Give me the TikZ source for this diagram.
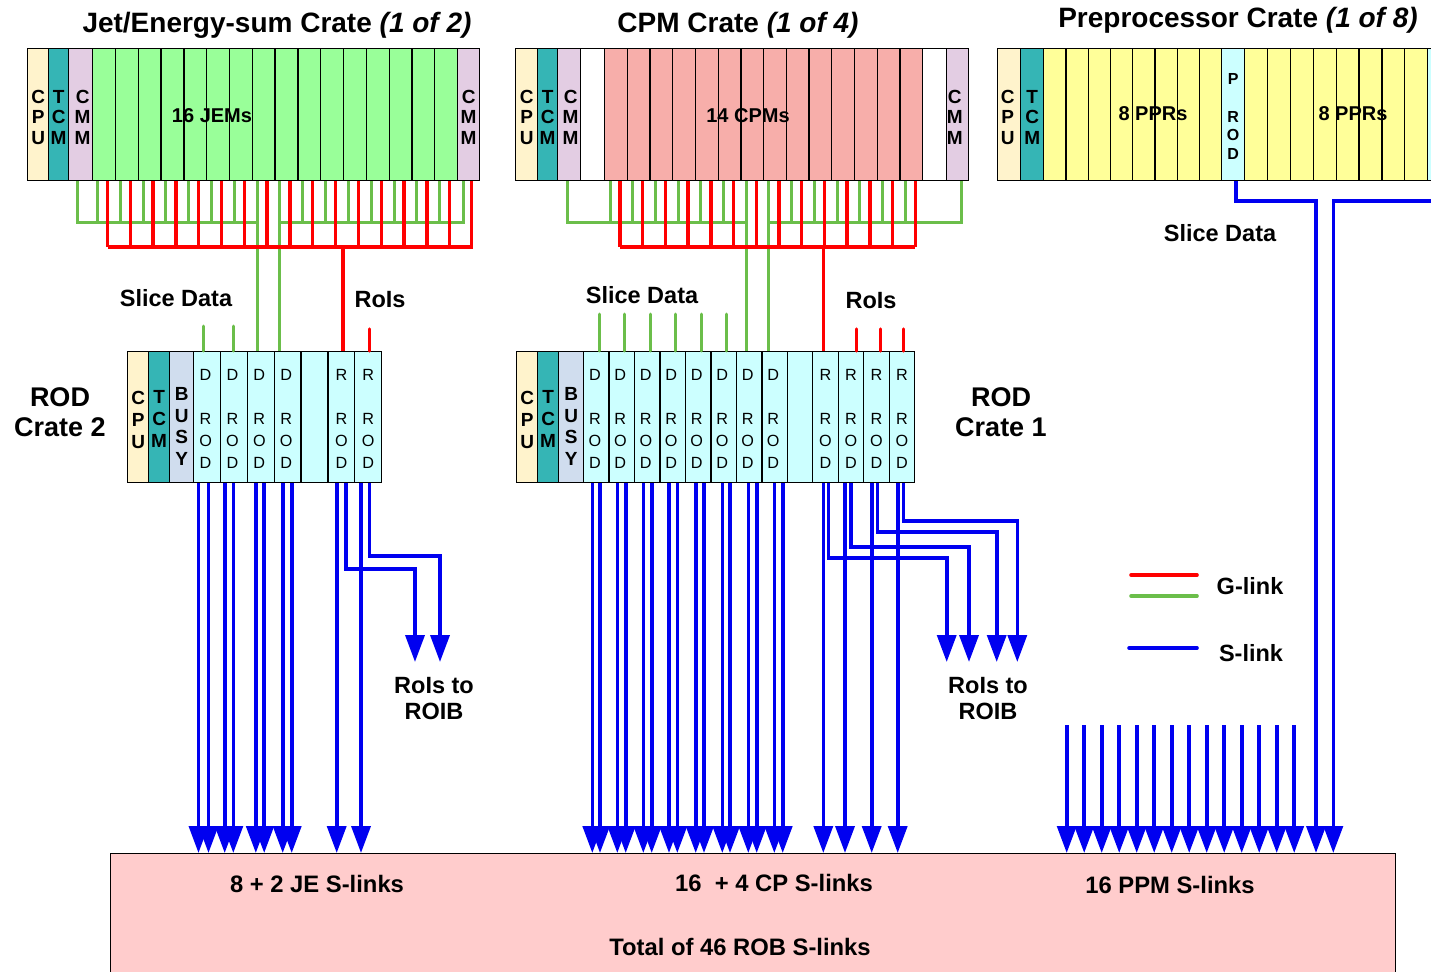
\documentclass[tikz,border=0pt]{standalone}
\usepackage{fontspec}
\setmainfont{Liberation Sans}
\usetikzlibrary{arrows.meta}
\definecolor{cpuc}{HTML}{FFF3CC}
\definecolor{tcmc}{HTML}{35B5B5}
\definecolor{cmmc}{HTML}{E3CDE3}
\definecolor{jemc}{HTML}{99FF99}
\definecolor{cpmc}{HTML}{F7AEAA}
\definecolor{pprc}{HTML}{FFFF99}
\definecolor{rodc}{HTML}{CCFFFF}
\definecolor{busyc}{HTML}{D0DDEE}
\definecolor{robc}{HTML}{FFCCCC}
\definecolor{gl}{HTML}{6BBE4A}
\definecolor{rl}{HTML}{FF0000}
\definecolor{sl}{HTML}{0000F0}
\newcommand\myfs[2]{\fontsize{#1}{#2}\selectfont}
\begin{document}
\begin{tikzpicture}[x=1pt,y=-1pt,
  slotn/.style={draw=black, line width=1.3pt, inner sep=0pt, anchor=north west, minimum height=132pt},
  rslot/.style={slotn, minimum height=131pt},
  stk/.style={font={\bfseries\myfs{19}{20.5}}, align=center, inner sep=0pt},
  rstk/.style={font={\bfseries\myfs{19}{22}}, align=center, inner sep=0pt},
  dstk/.style={font={\myfs{16.2}{22}}, align=center, inner sep=0pt},
  pstk/.style={font={\bfseries\myfs{16}{18.7}}, align=center, inner sep=0pt},
  mlbl/.style={font={\bfseries\myfs{20}{22}}, inner sep=0pt},
  lbl/.style={font={\bfseries\myfs{23.5}{26}}, align=center, inner sep=0pt},
  blbl/.style={font={\bfseries\myfs{23.8}{26}}, inner sep=0pt},
  clbl/.style={font={\bfseries\myfs{27}{30}}, align=center, inner sep=0pt},
  ttl/.style={font={\bfseries\myfs{28}{30}}, inner sep=0pt},
  glink/.style={draw=gl, line width=3pt},
  rlink/.style={draw=rl, line width=3.4pt},
  slink/.style={draw=sl, line width=3.6pt},
  sarr/.style={slink, -{Triangle[width=19pt,length=27pt]}},
]
\useasboundingbox (0,0) rectangle (1431,971);

% ROB box
\node[draw=black, line width=1.3pt, fill=robc, anchor=north west, inner sep=0pt,
      minimum width=1285pt, minimum height=130pt] (rob) at (110,853) {};

% titles
\node[ttl] (t1) at (277,25) {Jet/Energy-sum Crate \textit{(1 of 2)}};
\node[ttl] (t2) at (738,25) {CPM Crate \textit{(1 of 4)}};
\node[ttl] (t3) at (1238,20) {Preprocessor Crate \textit{(1 of 8)}};

% ---------------- Jet/Energy-sum crate
\node[slotn, fill=cpuc, minimum width=21pt] (jcpu) at (27,48) {};
\node[slotn, fill=tcmc, minimum width=20pt] (jtcm) at (48,48) {};
\node[slotn, fill=cmmc, minimum width=24pt] (jcmma) at (68,48) {};
\foreach \i in {0,...,15}
  \node[slotn, fill=jemc, minimum width=22.81pt] (jem\i) at ({92+22.81*\i},48) {};
\node[slotn, fill=cmmc, minimum width=22pt] (jcmmb) at (457,48) {};
\node[stk] at ([yshift=-2.5pt]jcpu.center) {C\\P\\U};
\node[stk] at ([yshift=-2.5pt]jtcm.center) {T\\C\\M};
\node[stk] at ([xshift=2pt,yshift=-2.5pt]jcmma.center) {C\\M\\M};
\node[stk] at ([yshift=-2.5pt]jcmmb.center) {C\\M\\M};
\node[mlbl] at (212,116) {16 JEMs};

% ---------------- CPM crate
\node[slotn, fill=cpuc, minimum width=22pt] (ccpu) at (515,48) {};
\node[slotn, fill=tcmc, minimum width=20pt] (ctcm) at (537,48) {};
\node[slotn, fill=cmmc, minimum width=23pt] (ccmma) at (557,48) {};
\node[slotn, fill=white, minimum width=24pt] (cbla) at (580,48) {};
\foreach \i in {0,...,13}
  \node[slotn, fill=cpmc, minimum width=22.71pt] (cpm\i) at ({604+22.71*\i},48) {};
\node[slotn, fill=white, minimum width=24pt] (cblb) at (922,48) {};
\node[slotn, fill=cmmc, minimum width=22pt] (ccmmb) at (946,48) {};
\node[stk] at ([yshift=-2.5pt]ccpu.center) {C\\P\\U};
\node[stk] at ([yshift=-2.5pt]ctcm.center) {T\\C\\M};
\node[stk] at ([xshift=1.5pt,yshift=-2.5pt]ccmma.center) {C\\M\\M};
\node[stk] at ([xshift=-3pt,yshift=-2.5pt]ccmmb.center) {C\\M\\M};
\node[mlbl] at (748,116) {14 CPMs};

% ---------------- Preprocessor crate
\node[slotn, fill=cpuc, minimum width=23pt] (pcpu) at (997,48) {};
\node[slotn, fill=tcmc, minimum width=23pt] (ptcm) at (1020,48) {};
\foreach \i in {0,...,7}
  \node[slotn, fill=pprc, minimum width=22.25pt] (ppa\i) at ({1043+22.25*\i},48) {};
\node[slotn, fill=rodc, minimum width=23pt] (prod) at (1221,48) {};
\foreach \i in {0,...,7}
  \node[slotn, fill=pprc, minimum width=22.875pt] (ppb\i) at ({1244+22.875*\i},48) {};
\node[slotn, fill=rodc, minimum width=23pt] (prodb) at (1427,48) {};
\node[stk] at ([xshift=-1.5pt,yshift=-2.5pt]pcpu.center) {C\\P\\U};
\node[stk] at ([yshift=-2.5pt]ptcm.center) {T\\C\\M};
\node[pstk] at ([yshift=-2pt]prod.center) {P\\[18.7pt]R\\O\\D};
\node[mlbl] at (1153,114) {8 PPRs};
\node[mlbl] at (1353,114) {8 PPRs};

% ---------------- ROD crate 2
\node[rslot, fill=cpuc, minimum width=21pt] (r2cpu) at (127,351) {};
\node[rslot, fill=tcmc, minimum width=21pt] (r2tcm) at (148,351) {};
\node[rslot, fill=busyc, minimum width=24pt] (r2busy) at (169,351) {};
\foreach \n [count=\k from 0] in {r2d1,r2d2,r2d3,r2d4,r2x,r2r1,r2r2}
  \node[rslot, fill=rodc, minimum width=26.86pt] (\n) at ({193+26.86*\k},351) {};
\node[rstk] at ([yshift=-3pt]r2cpu.center) {C\\P\\U};
\node[rstk] at ([yshift=-2pt]r2tcm.center) {T\\C\\M};
\node[font={\bfseries\myfs{19}{21.5}}, align=center, inner sep=0pt] at ([yshift=-9.5pt]r2busy.center) {B\\U\\S\\Y};
\foreach \n in {r2d1,r2d2,r2d3,r2d4}
  \node[dstk] at ([xshift=-1.5pt,yshift=-1.5pt]\n.center) {D\\[22pt]R\\O\\D};
\foreach \n in {r2r1,r2r2}
  \node[dstk] at ([yshift=-1.5pt]\n.center) {R\\[22pt]R\\O\\D};
\node[clbl] (rc2) at (60,412) {ROD\\Crate 2};

% ---------------- ROD crate 1
\node[rslot, fill=cpuc, minimum width=21pt] (r1cpu) at (516,351) {};
\node[rslot, fill=tcmc, minimum width=21pt] (r1tcm) at (537,351) {};
\node[rslot, fill=busyc, minimum width=25pt] (r1busy) at (558,351) {};
\foreach \n [count=\k from 0] in {r1d1,r1d2,r1d3,r1d4,r1d5,r1d6,r1d7,r1d8,r1x,r1r1,r1r2,r1r3,r1r4}
  \node[rslot, fill=rodc, minimum width=25.46pt] (\n) at ({583+25.46*\k},351) {};
\node[rstk] at ([yshift=-3pt]r1cpu.center) {C\\P\\U};
\node[rstk] at ([yshift=-2pt]r1tcm.center) {T\\C\\M};
\node[font={\bfseries\myfs{19}{21.5}}, align=center, inner sep=0pt] at ([yshift=-9.5pt]r1busy.center) {B\\U\\S\\Y};
\foreach \n in {r1d1,r1d2,r1d3,r1d4,r1d5,r1d6,r1d7,r1d8}
  \node[dstk] at ([xshift=-1.5pt,yshift=-1.5pt]\n.center) {D\\[22pt]R\\O\\D};
\foreach \n in {r1r1,r1r2,r1r3,r1r4}
  \node[dstk] at ([yshift=-1.5pt]\n.center) {R\\[22pt]R\\O\\D};
\node[clbl] (rc1) at (1001,412) {ROD\\Crate 1};

% ---------------- bus levels
\coordinate (gbus) at (0,222);
\coordinate (rbus) at (0,247);
\coordinate (pbus) at (0,201);

% ---------------- coordinates of link starts
\foreach \i in {0,...,15}{
  \coordinate (jg\i) at ([xshift=5.5pt]jem\i.south west);
  \coordinate (jr\i) at ([xshift=15.5pt]jem\i.south west);
}
\foreach \i in {0,...,13}{
  \coordinate (cg\i) at ([xshift=6pt]cpm\i.south west);
  \coordinate (cr\i) at ([xshift=16pt]cpm\i.south west);
}

% ---------------- green G-links (below red)
\foreach \i in {0,...,15}{
  \draw[glink] (jg\i) -- (jg\i |- gbus);
}
\coordinate (jga) at ([xshift=-3pt]jcmma.south);
\coordinate (jgb) at ([xshift=-5pt]jcmmb.south);
\draw[glink] (jga) |- (jg7 |- gbus);
\draw[glink] (jgb) |- (jg8 |- gbus);
\draw[glink] (jg7) -- (jg7 |- r2d3.north);
\draw[glink] (jg8) -- (jg8 |- r2d4.north);

\foreach \i in {0,...,13}{
  \draw[glink] (cg\i) -- (cg\i |- gbus);
}
\coordinate (cga) at ([xshift=-1.5pt]ccmma.south);
\coordinate (cgb) at ([xshift=4pt]ccmmb.south);
\draw[glink] (cga) |- (cg6 |- gbus);
\draw[glink] (cgb) |- (cg7 |- gbus);
\draw[glink] (cg6) -- (cg6 |- r1d7.north);
\draw[glink] (cg7) -- (cg7 |- r1d8.north);

% ---------------- red G-links (on top)
\foreach \i in {0,...,15}{
  \draw[rlink] (jr\i) -- (jr\i |- rbus);
}
\coordinate (jrb) at ([xshift=3pt]jcmmb.south);
\draw[rlink] (jrb) |- (jr0 |- rbus);
\coordinate (jrd) at ([xshift=1.5pt]r2r1.north);
\draw[rlink] (jrd |- rbus) -- (jrd);

\foreach \i in {0,...,13}{
  \draw[rlink] (cr\i) -- (cr\i |- rbus);
}
\draw[rlink] (cr0 |- rbus) -- (cr13 |- rbus);
\coordinate (crd) at ([xshift=-2pt]r1r1.north);
\draw[rlink] (crd |- rbus) -- (crd);

% ---------------- ROD input stubs
\foreach \n/\dx in {r2d1/-3.6, r2d2/-0.8}
  \draw[glink, line cap=round] ([xshift=\dx pt]\n.north) -- ++(0,-25);
\draw[rlink, line cap=round] ([xshift=1.4pt]r2r2.north) -- ++(0,-22);
\foreach \n in {r1d1,r1d2,r1d3,r1d4,r1d5,r1d6}
  \draw[glink, line cap=round] ([xshift=3pt]\n.north) -- ++(0,-37);
\foreach \n/\dx in {r1r2/5.7, r1r3/4.2, r1r4/1.7}
  \draw[rlink, line cap=round] ([xshift=\dx pt]\n.north) -- ++(0,-22);

% ---------------- S-links ROD crate 2
\foreach \x/\n in {198.5/r2d1, 208.5/r2d1, 224.7/r2d2, 233.3/r2d2, 255.8/r2d3, 264.2/r2d3,
                   282.7/r2d4, 291.7/r2d4, 336.7/r2r1, 361/r2r2}
  \draw[sarr] (\x,0 |- \n.south) -- (\x,0 |- rob.north);
\coordinate (roi2a) at (415,662);
\coordinate (roi2b) at (440,662);
\draw[sarr] (345.7,0 |- r2r1.south) |- (415,569) -- (roi2a);
\draw[sarr] (369.3,0 |- r2r2.south) |- (440,556) -- (roi2b);

% ---------------- S-links ROD crate 1
\foreach \x/\n in {592.3/r1d1, 600/r1d1, 617.3/r1d2, 625.7/r1d2, 643.3/r1d3, 651.7/r1d3,
                   669/r1d4, 677.3/r1d4, 695.7/r1d5, 704/r1d5, 722.3/r1d6, 730/r1d6,
                   748.3/r1d7, 756.7/r1d7, 774.3/r1d8, 782.7/r1d8,
                   823.3/r1r1, 845/r1r2, 871.7/r1r3, 897.7/r1r4}
  \draw[sarr] (\x,0 |- \n.south) -- (\x,0 |- rob.north);
\foreach \x/\n/\y/\t [count=\k] in {828.3/r1r1/558/946.7, 851/r1r2/546.7/969,
                              877.3/r1r3/531.7/996.7, 903.3/r1r4/521/1017.3}{
  \coordinate (roi1\k) at (\t,662);
  \draw[sarr] (\x,0 |- \n.south) |- (\t,\y) -- (roi1\k);
}

% ---------------- PPM S-links
\foreach \k [evaluate=\k as \px using 1066.7+17.5*\k] in {0,...,13}
  \draw[sarr] (\px,725) -- (\px,0 |- rob.north);
\coordinate (pa) at ([xshift=3pt]prod.south);
\draw[sarr] (pa) |- (1316,0 |- pbus) -- (1316,0 |- rob.north);
\draw[sarr] (prodb.south) |- (1333.3,0 |- pbus) -- (1333.3,0 |- rob.north);

% ---------------- labels
\node[lbl] at (176,298) {Slice Data};
\node[lbl] at (380,300) {RoIs};
\node[lbl] at (642,295) {Slice Data};
\node[lbl] at (871,301) {RoIs};
\node[lbl] at (1220,233) {Slice Data};
\node[lbl] at (434,699) {RoIs to\\ROIB};
\node[lbl] at (988,699) {RoIs to\\ROIB};

% ---------------- legend
\draw[rlink, line width=3.6pt, line cap=round] (1131,575) -- (1197,575);
\draw[glink, line width=3.6pt, line cap=round] (1131,596) -- (1197,596);
\draw[slink, line cap=round] (1129,648) -- (1197,648);
\node[lbl] at (1250,586) {G-link};
\node[lbl] at (1251,653) {S-link};

% ---------------- box texts
\node[blbl] at (317,884) {8 + 2 JE S-links};
\node[blbl] at (774,883) {16\ \ + 4 CP S-links};
\node[blbl] at (1170,885) {16 PPM S-links};
\node[blbl] at (740,947) {Total of 46 ROB S-links};
\end{tikzpicture}
\end{document}
